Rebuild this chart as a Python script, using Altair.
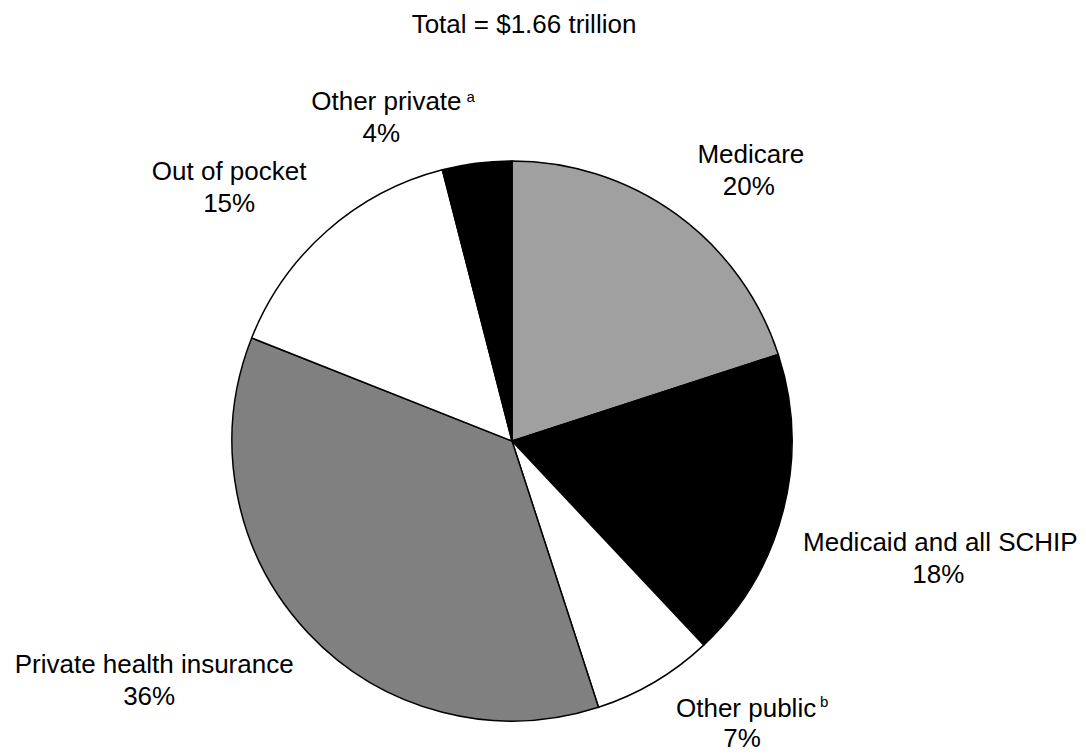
import math
import altair as alt
import pandas as pd

# ---- data ----
categories = ["Medicare", "Medicaid and all SCHIP", "Other public",
              "Private health insurance", "Out of pocket", "Other private"]
shares = [20, 18, 7, 36, 15, 4]
pct_labels = ["20%", "18%", "7%", "36%", "15%", "4%"]
footnotes = ["", "", "b", "", "", "a"]
fill_colors = ["#a0a0a0", "#000000", "#ffffff", "#808080", "#ffffff", "#000000"]
title_text = "Total = $1.66 trillion"

df = pd.DataFrame({
    "category": categories,
    "share": shares,
    "pct": pct_labels,
    "note": footnotes,
    "order": list(range(len(categories))),
})

# ---- layout / style ----
CX, CY = 504, 433       # pie centre inside the plot area
R = 280                 # pie radius
LR = 340                # label anchor radius
FONT = "Liberation Sans"
FS = 26
TOTAL = sum(shares)

# (name dx, dy), (pct dx, dy), (footnote dx, dy)
label_layout = {
    "Medicare": ((39, -3), (37, 29), None),
    "Medicaid and all SCHIP": ((99, 25), (97, 57), None),
    "Other public": ((61, -17), (57, 13), (135, -27)),
    "Private health insurance": ((-110, -1), (-115, 31), None),
    "Out of pocket": ((-58, -6), (-58, 26), None),
    "Other private": ((-83, 6), (-88, 38), (-3, -2)),
}

pie = alt.Chart(df).mark_arc(radius=R, stroke="black", strokeWidth=1.5).encode(
    theta=alt.Theta("share:Q", stack=True),
    order=alt.Order("order:Q"),
    color=alt.Color("category:N",
                    scale=alt.Scale(domain=categories, range=fill_colors),
                    legend=None),
    x=alt.value(CX),
    y=alt.value(CY),
)

lab_base = alt.Chart(df).transform_window(
    cum="sum(share)", sort=[alt.SortField("order")]
).transform_calculate(mid="datum.cum - datum.share / 2")

theta_mid = alt.Theta("mid:Q", scale=alt.Scale(domain=[0, TOTAL], range=[0, 2 * math.pi]))

layers = [pie]
for cat in categories:
    (ndx, ndy), (pdx, pdy), note = label_layout[cat]
    sub = lab_base.transform_filter(alt.datum.category == cat)
    layers.append(sub.mark_text(radius=LR, dx=ndx, dy=ndy, align="center",
                                baseline="alphabetic", font=FONT, fontSize=FS,
                                color="black").encode(
        theta=theta_mid, x=alt.value(CX), y=alt.value(CY), text="category:N"))
    layers.append(sub.mark_text(radius=LR, dx=pdx, dy=pdy, align="center",
                                baseline="alphabetic", font=FONT, fontSize=FS,
                                color="black").encode(
        theta=theta_mid, x=alt.value(CX), y=alt.value(CY), text="pct:N"))
    if note is not None:
        layers.append(sub.mark_text(radius=LR, dx=note[0], dy=note[1], align="left",
                                    baseline="alphabetic", font=FONT, fontSize=15,
                                    color="black").encode(
            theta=theta_mid, x=alt.value(CX), y=alt.value(CY), text="note:N"))

title = alt.Chart(pd.DataFrame({"t": [title_text]})).mark_text(
    align="center", baseline="alphabetic", font=FONT, fontSize=FS, color="black"
).encode(x=alt.value(516), y=alt.value(25), text="t:N")
layers.append(title)

chart = alt.layer(*layers).resolve_scale(theta="independent").properties(
    width=1070, height=748,
    autosize=alt.AutoSizeParams(type="none"),
    padding=0,
    background="white",
).configure_view(stroke=None)

chart.save("out.html", embed_options={"renderer": "svg", "actions": False})
